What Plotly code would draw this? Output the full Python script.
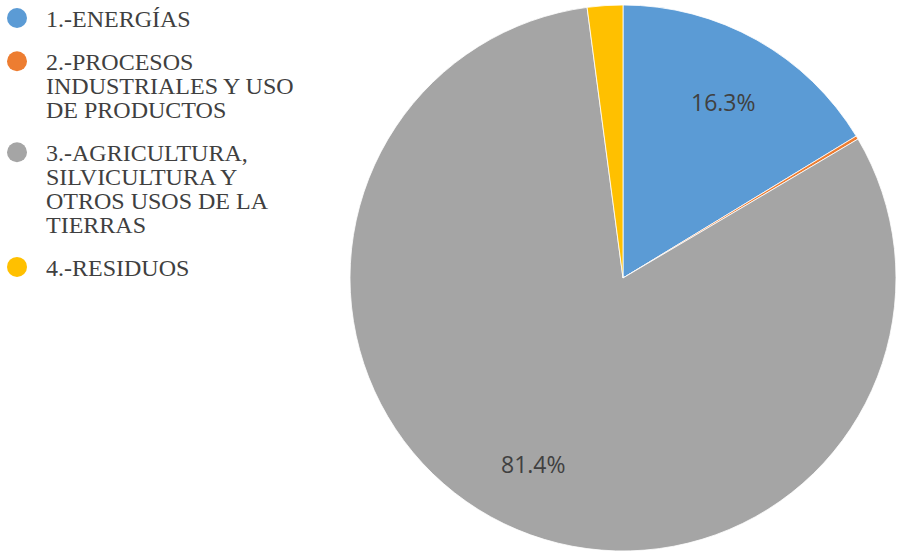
import numpy as np
import plotly.graph_objects as go

# Emission shares by sector (%)
categories = [
    "1.-ENERGÍAS",
    "2.-PROCESOS INDUSTRIALES Y USO DE PRODUCTOS",
    "3.-AGRICULTURA, SILVICULTURA Y OTROS USOS DE LA TIERRAS",
    "4.-RESIDUOS",
]
legend_lines = [
    ["1.-ENERGÍAS"],
    ["2.-PROCESOS", "INDUSTRIALES Y USO", "DE PRODUCTOS"],
    ["3.-AGRICULTURA,", "SILVICULTURA Y", "OTROS USOS DE LA", "TIERRAS"],
    ["4.-RESIDUOS"],
]
values = [16.3, 0.2, 81.4, 2.1]
show_label = [True, False, True, False]
colors = ["#5B9BD5", "#ED7D31", "#A5A5A5", "#FFC000"]

W, H = 899, 554
TEXT = "#404040"

# pie geometry in pixels
left, right, top, bottom = 350, 896, 5, 551
cx, cy = (left + right) / 2, (top + bottom) / 2
R = min(right - left, bottom - top) / 2

fig = go.Figure()
fig.add_trace(go.Pie(
    labels=categories,
    values=values,
    sort=False,
    direction="clockwise",
    rotation=0,
    marker=dict(colors=colors, line=dict(color="white", width=0.8)),
    textinfo="none",
    hoverinfo="label+percent",
    showlegend=False,
    domain=dict(x=[left / W, right / W], y=[1 - bottom / H, 1 - top / H]),
))

annotations = []
shapes = []

# percentage labels placed along each slice's mid-angle
vals = np.array(values, dtype=float)
total = vals.sum()
cum = np.cumsum(vals) - vals / 2
for v, c, show in zip(vals, cum, show_label):
    if not show:
        continue
    theta = 2 * np.pi * c / total
    px = cx + 0.75 * R * np.sin(theta)
    py = cy - 0.75 * R * np.cos(theta) + 2
    annotations.append(dict(
        x=px / W, y=1 - py / H, xref="paper", yref="paper",
        text=f"{100 * v / total:.1f}%", showarrow=False,
        xanchor="center", yanchor="middle",
        font=dict(family="Open Sans", size=23, color=TEXT),
    ))

# legend: circle marker plus wrapped text lines
line_h = 23.8
item_gap = 19.5
y = 18
for lines, col in zip(legend_lines, colors):
    shapes.append(dict(
        type="circle", xref="paper", yref="paper",
        x0=7 / W, x1=27 / W, y0=1 - (y + 10) / H, y1=1 - (y - 10) / H,
        fillcolor=col, line=dict(width=0),
    ))
    for i, ln in enumerate(lines):
        ly = y + i * line_h
        annotations.append(dict(
            x=44 / W, y=1 - (ly + 1) / H, xref="paper", yref="paper",
            text=ln, showarrow=False, xanchor="left", yanchor="middle",
            font=dict(family="Liberation Serif", size=24, color=TEXT),
        ))
    y += len(lines) * line_h + item_gap

fig.update_layout(
    width=W, height=H,
    margin=dict(l=0, r=0, t=0, b=0),
    paper_bgcolor="white", plot_bgcolor="white",
    annotations=annotations, shapes=shapes,
)

fig.write_html("out.html")
